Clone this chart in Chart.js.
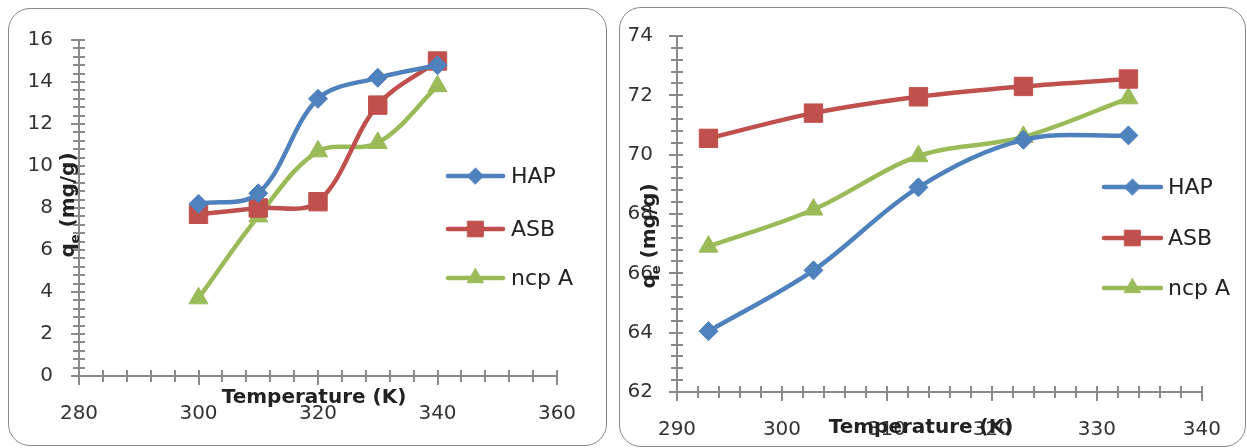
<!DOCTYPE html>
<html>
<head>
<meta charset="utf-8">
<script src="https://cdn.jsdelivr.net/npm/chart.js@4.4.1/dist/chart.umd.min.js"></script>
<style>
html,body{margin:0;padding:0;background:#fff;width:1247px;height:448px;overflow:hidden}
.panel{position:absolute;border:1.5px solid #8a8a8a;border-radius:22px;box-sizing:border-box;background:#fff}
canvas{position:absolute;left:0;top:0}
</style>
</head>
<body>
<div class="panel" style="left:8px;top:8px;width:599px;height:438px"></div>
<div class="panel" style="left:619px;top:7px;width:627px;height:440px"></div>
<canvas id="c1" width="1247" height="448"></canvas>
<canvas id="c2" width="1247" height="448"></canvas>
<script>
// ---------- data ----------
const seriesNames = ['HAP', 'ASB', 'ncp A'];
const seriesColors = ['#4F81BD', '#C0504D', '#9BBB59'];
const seriesMarkers = ['rectRot', 'rect', 'triangle'];

const leftTemps = [300, 310, 320, 330, 340];
const leftHAP = [8.2, 8.7, 13.2, 14.2, 14.8];
const leftASB = [7.7, 8.0, 8.3, 12.9, 15.0];
const leftNCP = [3.7, 7.6, 10.7, 11.1, 13.8];
const leftXTicks = [280, 300, 320, 340, 360];
const leftYTicks = [0, 2, 4, 6, 8, 10, 12, 14, 16];

const rightTemps = [293, 303, 313, 323, 333];
const rightHAP = [64.05, 66.1, 68.9, 70.5, 70.65];
const rightASB = [70.55, 71.4, 71.95, 72.3, 72.55];
const rightNCP = [66.9, 68.15, 69.95, 70.6, 71.9];
const rightXTicks = [290, 300, 310, 320, 330, 340];
const rightYTicks = [62, 64, 66, 68, 70, 72, 74];

const xTitle = 'Temperature (K)';

Chart.defaults.font.family = "'DejaVu Sans', sans-serif";
Chart.defaults.color = '#333';

function pts(xs, ys) { return xs.map((x, i) => ({ x: x, y: ys[i] })); }

const markerRadius = { rectRot: 9.5, rect: 13, triangle: 11 };

function makeDatasets(xs, seriesList) {
  return seriesList.map((ys, i) => ({
    label: seriesNames[i],
    data: pts(xs, ys),
    borderColor: seriesColors[i],
    backgroundColor: seriesColors[i],
    borderWidth: 4.5,
    pointStyle: seriesMarkers[i],
    pointRadius: markerRadius[seriesMarkers[i]],
    pointBorderWidth: 1,
    pointBorderColor: seriesColors[i],
    pointBackgroundColor: seriesColors[i],
    tension: 0.35,
    fill: false,
    clip: false
  }));
}

function drawMarker(ctx, style, r, x, y, color) {
  ctx.save();
  ctx.fillStyle = color; ctx.strokeStyle = color; ctx.lineWidth = 1;
  if (Chart.helpers && Chart.helpers.drawPoint) {
    Chart.helpers.drawPoint(ctx, { pointStyle: style, radius: r, rotation: 0, borderWidth: 1 }, x, y);
  }
  ctx.restore();
}

const decor = {
  id: 'decor',
  beforeDatasetsDraw(chart, args, o) {
    const ctx = chart.ctx;
    const xs = chart.scales.x, ys = chart.scales.y;
    const ax = xs.left, ay = ys.bottom;
    ctx.save();
    ctx.strokeStyle = '#8a8a8a';
    ctx.lineWidth = 2;
    ctx.beginPath();
    ctx.moveTo(ax, ys.top - 1); ctx.lineTo(ax, ay);
    ctx.moveTo(ax, ay); ctx.lineTo(xs.right + 1, ay);
    ctx.stroke();
    const ny = Math.round((ys.max - ys.min) / o.yMinor);
    ctx.beginPath();
    for (let i = 0; i <= ny; i++) {
      const v = ys.min + i * o.yMinor;
      const p = Math.round(ys.getPixelForValue(v));
      const major = i % o.yPer === 0;
      ctx.moveTo(ax - (major ? 8 : 6), p); ctx.lineTo(ax + 6, p);
    }
    const nx = Math.round((xs.max - xs.min) / o.xMinor);
    for (let i = 0; i <= nx; i++) {
      const v = xs.min + i * o.xMinor;
      const p = Math.round(xs.getPixelForValue(v));
      const major = i % o.xPer === 0;
      ctx.moveTo(p, ay - 6); ctx.lineTo(p, ay + (major ? 9 : 6));
    }
    ctx.stroke();
    ctx.restore();
  },
  afterDraw(chart, args, o) {
    const ctx = chart.ctx;
    ctx.save();
    ctx.fillStyle = '#222';
    ctx.font = "bold 20px 'DejaVu Sans'";
    ctx.textAlign = 'center';
    ctx.textBaseline = 'middle';
    ctx.fillText(xTitle, o.xtX, o.xtY);
    ctx.translate(o.ytX, o.ytY);
    ctx.rotate(-Math.PI / 2);
    ctx.textAlign = 'left';
    ctx.textBaseline = 'alphabetic';
    const fBig = "bold 20px 'DejaVu Sans'", fSmall = "bold 13px 'DejaVu Sans'";
    ctx.font = fBig; const wq = ctx.measureText('q').width; const wr = ctx.measureText(' (mg/g)').width;
    ctx.font = fSmall; const we = ctx.measureText('e').width;
    let u = -(wq + we + wr) / 2;
    ctx.font = fBig; ctx.fillText('q', u, 0); u += wq;
    ctx.font = fSmall; ctx.fillText('e', u, 5); u += we;
    ctx.font = fBig; ctx.fillText(' (mg/g)', u, 0);
    ctx.restore();
    ctx.save();
    chart.data.datasets.forEach((ds, i) => {
      const y = o.legY[i];
      ctx.strokeStyle = ds.borderColor;
      ctx.lineWidth = 4.5;
      ctx.lineCap = 'round';
      ctx.beginPath(); ctx.moveTo(o.legX0, y); ctx.lineTo(o.legX1, y); ctx.stroke();
      drawMarker(ctx, ds.pointStyle, ds.pointRadius * 0.85, (o.legX0 + o.legX1) / 2, y, ds.borderColor);
      ctx.fillStyle = '#222';
      ctx.font = "22px 'DejaVu Sans'";
      ctx.textAlign = 'left';
      ctx.textBaseline = 'middle';
      ctx.fillText(ds.label, o.legTX, y + 1);
    });
    ctx.restore();
  }
};

function makeChart(id, xs, seriesList, xMin, xMax, xStep, yMin, yMax, yStep, area, axW, axH, labPadY, labPadX, dec) {
  return new Chart(document.getElementById(id), {
    type: 'line',
    data: { datasets: makeDatasets(xs, seriesList) },
    options: {
      responsive: false,
      animation: false,
      events: [],
      layout: { padding: { left: area.l - axW, top: area.t, right: 1247 - area.r, bottom: 448 - area.b - axH } },
      plugins: { legend: { display: false }, tooltip: { enabled: false }, decor: dec },
      scales: {
        x: {
          type: 'linear', min: xMin, max: xMax,
          ticks: { stepSize: xStep, padding: labPadX, font: { size: 20 }, color: '#333', maxRotation: 0, autoSkip: false },
          grid: { display: false, drawTicks: false },
          border: { display: false },
          afterFit(s) { s.height = axH; }
        },
        y: {
          type: 'linear', min: yMin, max: yMax,
          ticks: { stepSize: yStep, padding: labPadY, font: { size: 20 }, color: '#333' },
          grid: { display: false, drawTicks: false },
          border: { display: false },
          afterFit(s) { s.width = axW; }
        }
      }
    },
    plugins: [decor]
  });
}

makeChart('c1', leftTemps, [leftHAP, leftASB, leftNCP],
  leftXTicks[0], leftXTicks[leftXTicks.length - 1], 20,
  leftYTicks[0], leftYTicks[leftYTicks.length - 1], 2,
  { l: 79, t: 40, r: 557, b: 376 }, 70, 60, 26, 26,
  { yMinor: 0.4, yPer: 5, xMinor: 4, xPer: 5, xtX: 314, xtY: 398, ytX: 74, ytY: 205,
    legX0: 448, legX1: 503, legTX: 511, legY: [176, 229, 278] });

makeChart('c2', rightTemps, [rightHAP, rightASB, rightNCP],
  rightXTicks[0], rightXTicks[rightXTicks.length - 1], 10,
  rightYTicks[0], rightYTicks[rightYTicks.length - 1], 2,
  { l: 677, t: 27, r: 1212, b: 392 }, 60, 50, 24, 26,
  { yMinor: 0.4, yPer: 5, xMinor: 2, xPer: 5, xtX: 921, xtY: 428, ytX: 655, ytY: 236,
    legX0: 1104, legX1: 1161, legTX: 1168, legY: [187, 238, 288] });
</script>
</body>
</html>
